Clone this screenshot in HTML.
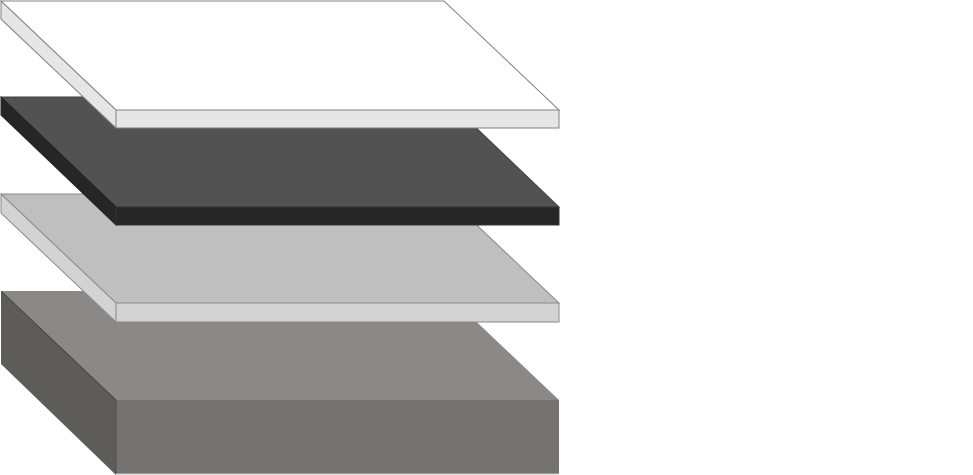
<!DOCTYPE html>
<html>
<head>
<meta charset="utf-8">
<style>
html,body{margin:0;padding:0;background:#fff;}
svg{display:block;}
</style>
</head>
<body>
<svg width="973" height="475" viewBox="0 0 973 475" xmlns="http://www.w3.org/2000/svg">
  <!-- Base block -->
  <polygon points="1,291 444,291 559,400 116,400" fill="#8c8886"/>
  <polygon points="1,291 116,400 116,475 1,364" fill="#5e5c5a"/>
  <rect x="116" y="400" width="443" height="74" fill="#767270"/>
  <line x1="1" y1="291" x2="116" y2="400" stroke="#3a3a3a" stroke-width="0.8"/>
  <line x1="116" y1="400" x2="116" y2="474" stroke="#4a4a4a" stroke-width="0.8"/>
  <line x1="116" y1="474" x2="559" y2="474" stroke="#c8c8c8" stroke-width="1"/>

  <!-- Light gray plate -->
  <polygon points="1,194 444,194 559,303 116,303" fill="#bfbfbf" stroke="#8a8a8a" stroke-width="1"/>
  <polygon points="1,194 116,303 116,322 1,213" fill="#d3d3d3" stroke="#8a8a8a" stroke-width="1"/>
  <rect x="116" y="303" width="443" height="19" fill="#d3d3d3" stroke="#8a8a8a" stroke-width="1"/>

  <!-- Dark plate -->
  <polygon points="1,97 444,97 559,207 116,207" fill="#525252" stroke="#404040" stroke-width="1"/>
  <polygon points="1,97 116,207 116,225 1,115" fill="#262626" stroke="#222" stroke-width="1"/>
  <rect x="116" y="207" width="443" height="18" fill="#262626" stroke="#333" stroke-width="1"/>

  <!-- White plate -->
  <polygon points="1,1 444,1 559,110 116,110" fill="#ffffff" stroke="#808080" stroke-width="1"/>
  <polygon points="1,1 116,110 116,128 1,19" fill="#e6e6e6" stroke="#808080" stroke-width="1"/>
  <rect x="116" y="110" width="443" height="18" fill="#e6e6e6" stroke="#808080" stroke-width="1"/>
</svg>
</body>
</html>
